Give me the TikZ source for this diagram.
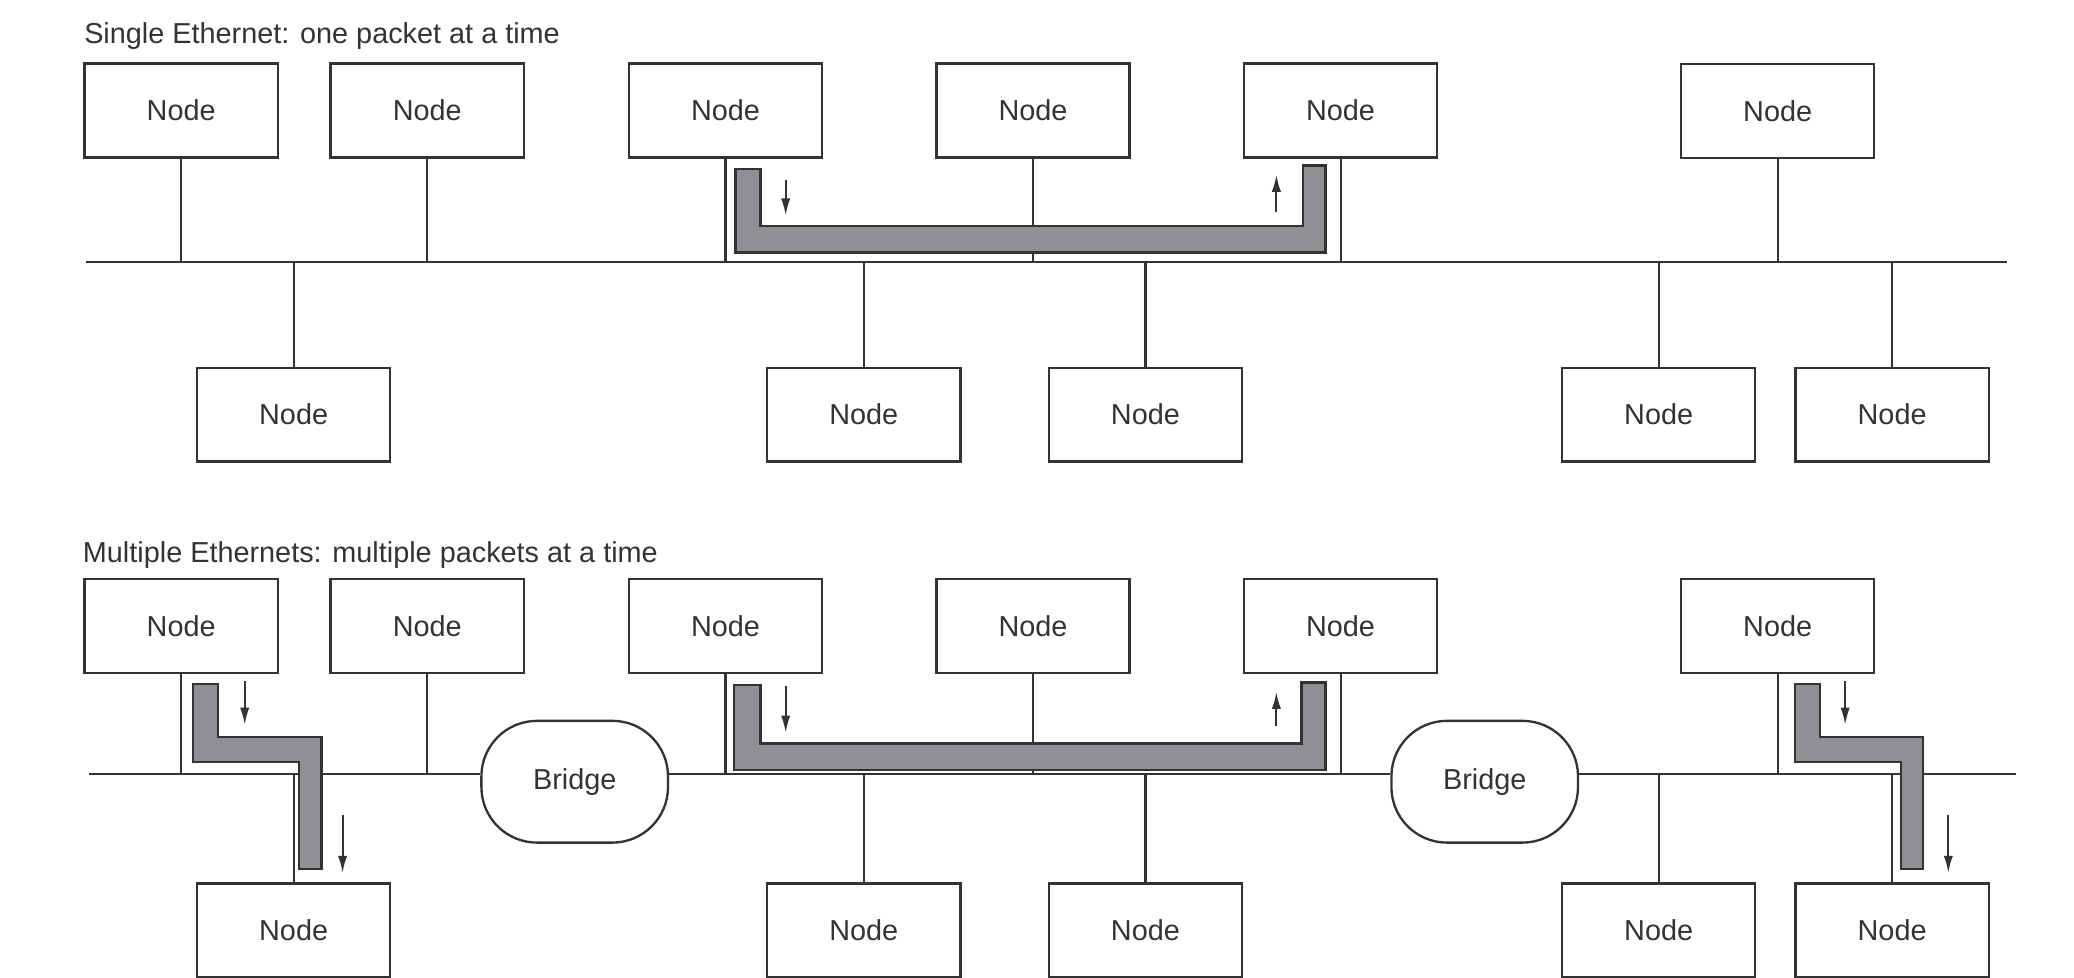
\documentclass[tikz,border=0pt]{standalone}
\usepackage{fontspec}
\setmainfont{Liberation Sans}
\usetikzlibrary{arrows.meta}

\definecolor{ink}{HTML}{333333}
\definecolor{packetgray}{HTML}{8E9094}

\begin{document}
\begin{tikzpicture}[
  x=0.01cm, y=-0.01cm,
  every node/.style={font=\fontsize{6.2}{7.4}\selectfont, text=ink},
  nodebox/.style={
    draw=ink,
    line width=0.5pt,
    minimum width=1.46cm,
    minimum height=0.71cm,
    inner sep=0pt
  },
  bridge/.style={
    draw=ink,
    line width=0.5pt,
    rounded corners=0.42cm,
    minimum width=1.41cm,
    minimum height=0.92cm,
    inner sep=0pt
  },
  heading/.style={anchor=base west, inner sep=0pt},
  wire/.style={draw=ink, line width=0.45pt},
  packet/.style={draw=ink, fill=packetgray, line width=0.5pt},
  flow/.style={-{Latex[length=1.3mm,width=0.7mm]}, draw=ink, line width=0.45pt}
]
\useasboundingbox (0,0) rectangle (1568,739);

% single ethernet
\node[heading] (title1) at (63,33) {Single Ethernet: one packet at a time};
\node[nodebox] (a1) at (137,83.5) {Node};
\node[nodebox] (a2) at (323,83.5) {Node};
\node[nodebox] (a3) at (548.5,83.5) {Node};
\node[nodebox] (a4) at (781,83.5) {Node};
\node[nodebox] (a5) at (1013.5,83.5) {Node};
\node[nodebox] (a6) at (1344,84) {Node};
\node[nodebox] (b1) at (222,313.5) {Node};
\node[nodebox] (b2) at (653,313.5) {Node};
\node[nodebox] (b3) at (866,313.5) {Node};
\node[nodebox] (b4) at (1254,313.5) {Node};
\node[nodebox] (b5) at (1430.5,313.5) {Node};
\coordinate (busAw) at (65,198);
\coordinate (busAe) at (1517,198);
\draw[wire] (busAw) -- (busAe);
\draw[wire] (a1) -- (a1 |- busAw);
\draw[wire] (a2) -- (a2 |- busAw);
\draw[wire] (a3) -- (a3 |- busAw);
\draw[wire] (a4) -- (a4 |- busAw);
\draw[wire] (a5) -- (a5 |- busAw);
\draw[wire] (a6) -- (a6 |- busAw);
\draw[wire] (b1) -- (b1 |- busAw);
\draw[wire] (b2) -- (b2 |- busAw);
\draw[wire] (b3) -- (b3 |- busAw);
\draw[wire] (b4) -- (b4 |- busAw);
\draw[wire] (b5) -- (b5 |- busAw);
\draw[packet] (556,128) -- (575,128) -- (575,171) -- (985,171) -- (985,125)
  -- (1002,125) -- (1002,191) -- (556,191) -- cycle;
\draw[flow] (594,136) -- (594,163);
\draw[flow] (965,160) -- (965,132);

% multiple ethernets
\node[heading] (title2) at (62,425) {Multiple Ethernets: multiple packets at a time};
\node[nodebox] (c1) at (137,473.5) {Node};
\node[nodebox] (c2) at (323,473.5) {Node};
\node[nodebox] (c3) at (548.5,473.5) {Node};
\node[nodebox] (c4) at (781,473.5) {Node};
\node[nodebox] (c5) at (1013.5,473.5) {Node};
\node[nodebox] (c6) at (1344,473.5) {Node};
\node[nodebox] (d1) at (222,703.5) {Node};
\node[nodebox] (d2) at (653,703.5) {Node};
\node[nodebox] (d3) at (866,703.5) {Node};
\node[nodebox] (d4) at (1254,703.5) {Node};
\node[nodebox] (d5) at (1430.5,703.5) {Node};
\node[bridge] (br1) at (434.5,591) {Bridge};
\node[bridge] (br2) at (1122.5,591) {Bridge};
\coordinate (busBw) at (67,585);
\coordinate (busBe) at (1524,585);
\draw[wire] (busBw) -- (busBw -| br1.west);
\draw[wire] (busBw -| br1.east) -- (busBw -| br2.west);
\draw[wire] (busBw -| br2.east) -- (busBe);
\draw[wire] (c1) -- (c1 |- busBw);
\draw[wire] (c2) -- (c2 |- busBw);
\draw[wire] (c3) -- (c3 |- busBw);
\draw[wire] (c4) -- (c4 |- busBw);
\draw[wire] (c5) -- (c5 |- busBw);
\draw[wire] (c6) -- (c6 |- busBw);
\draw[wire] (d1) -- (d1 |- busBw);
\draw[wire] (d2) -- (d2 |- busBw);
\draw[wire] (d3) -- (d3 |- busBw);
\draw[wire] (d4) -- (d4 |- busBw);
\draw[wire] (d5) -- (d5 |- busBw);
\draw[packet] (146,517) -- (165,517) -- (165,557) -- (243,557) -- (243,657)
  -- (226,657) -- (226,576) -- (146,576) -- cycle;
\draw[packet] (555,518) -- (575,518) -- (575,562) -- (984,562) -- (984,516)
  -- (1002,516) -- (1002,582) -- (555,582) -- cycle;
\draw[packet] (1357,517) -- (1376,517) -- (1376,557) -- (1454,557) -- (1454,657)
  -- (1437,657) -- (1437,576) -- (1357,576) -- cycle;
\draw[flow] (185,515) -- (185,548);
\draw[flow] (259,616) -- (259,660);
\draw[flow] (594,519) -- (594,554);
\draw[flow] (965,549) -- (965,523);
\draw[flow] (1395,515) -- (1395,548);
\draw[flow] (1473,616) -- (1473,660);
\end{tikzpicture}
\end{document}
